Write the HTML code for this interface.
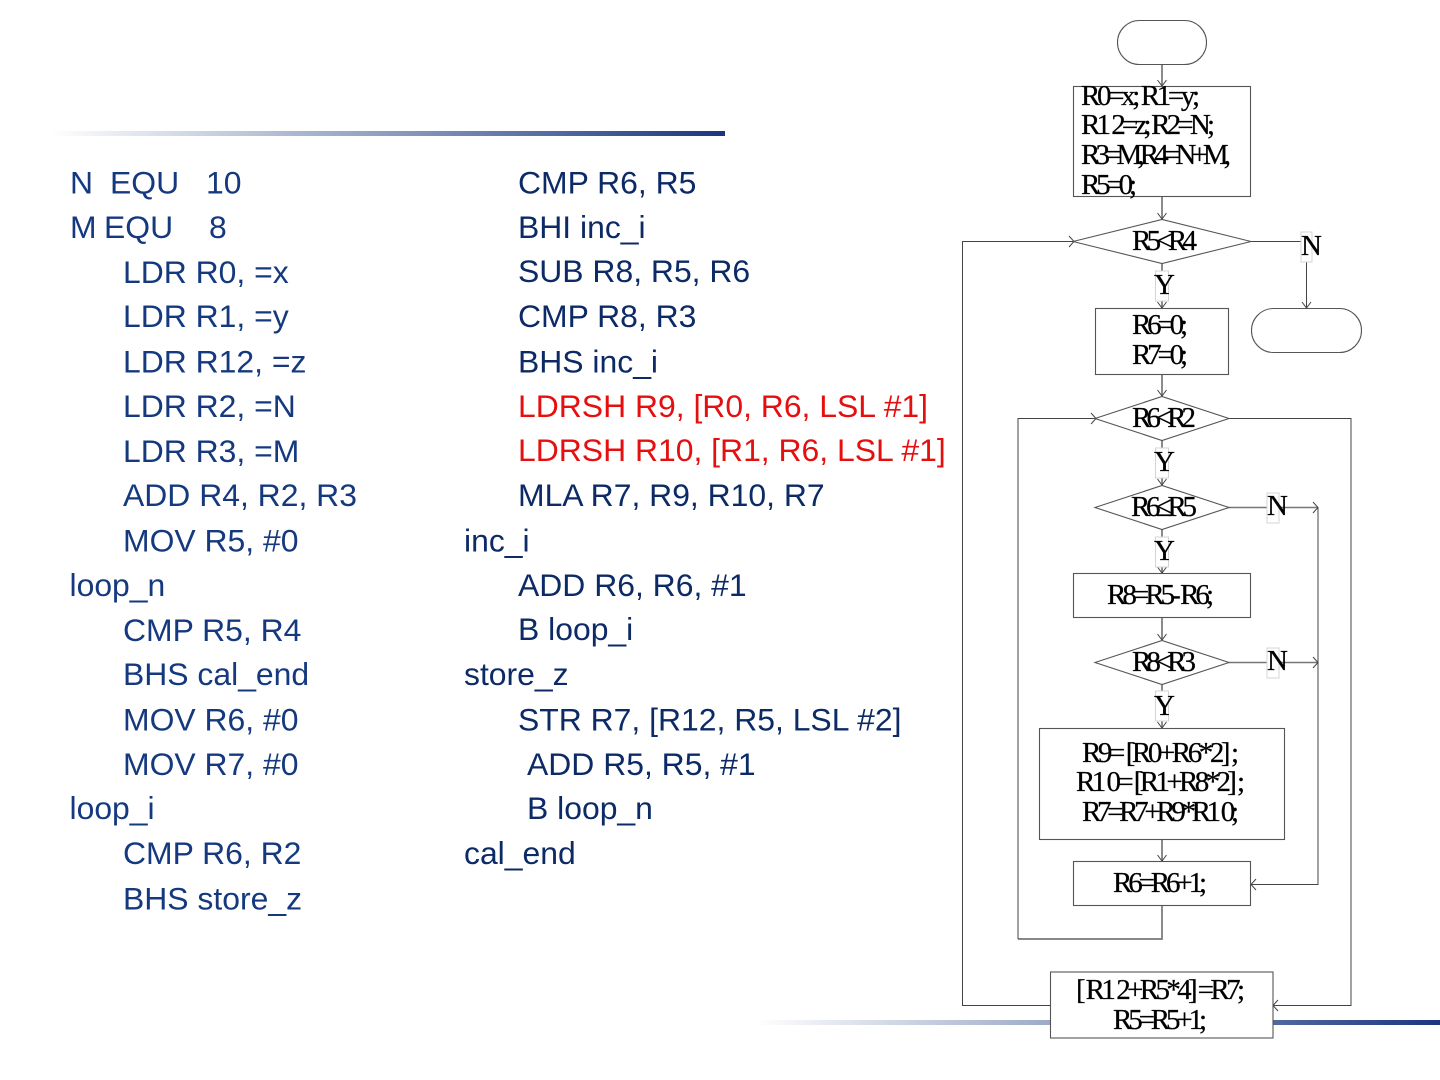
<!DOCTYPE html>
<html><head><meta charset="utf-8"><style>
html,body{margin:0;padding:0;background:#fff;width:1440px;height:1080px;overflow:hidden}
svg{display:block}
.c{font-family:"Liberation Sans",sans-serif;font-size:31.9px;fill:#15397f}
.d{font-family:"Liberation Sans",sans-serif;font-size:31.9px;fill:#0c2a66}
.r{font-family:"Liberation Sans",sans-serif;font-size:31.9px;fill:#e60f0f}
.f{font-family:"Liberation Serif",serif;font-size:29px;fill:#000;stroke:#000;stroke-width:.25}
.s{fill:#fff;stroke:#555;stroke-width:1.1}
.l{fill:none;stroke:#444;stroke-width:1}
.v{fill:none;stroke:#777;stroke-width:1.7}
.b{fill:#fff;stroke:#d4d4d4;stroke-width:1}
</style></head><body>
<svg width="1440" height="1080" viewBox="0 0 1440 1080" xmlns="http://www.w3.org/2000/svg">
<defs>
<linearGradient id="g1" x1="0" x2="1" y1="0" y2="0"><stop offset="0" stop-color="#fff"/><stop offset="0.5" stop-color="#8c9dbf"/><stop offset="1" stop-color="#1b3580"/></linearGradient>
</defs>
<rect x="50" y="131" width="675" height="5" fill="url(#g1)"/>
<rect x="755" y="1020" width="685" height="5" fill="url(#g1)"/>

<g transform="translate(0,0.6)">
<text class="c" x="70" y="192.7">N</text><text class="c" x="110" y="192.7">EQU</text><text class="c" x="206" y="192.7">10</text>
<text class="c" x="70" y="237.5">M</text><text class="c" x="104" y="237.5">EQU</text><text class="c" x="209" y="237.5">8</text>
<text class="c" x="123" y="282.2">LDR R0, =x</text>
<text class="c" x="123" y="326.4">LDR R1, =y</text>
<text class="c" x="123" y="371.7">LDR R12, =z</text>
<text class="c" x="123" y="416.5">LDR R2, =N</text>
<text class="c" x="123" y="461.2">LDR R3, =M</text>
<text class="c" x="123" y="505.4">ADD R4, R2, R3</text>
<text class="c" x="123" y="550.7">MOV R5, #0</text>
<text class="c" x="69.5" y="595.5">loop_n</text>
<text class="c" x="123" y="640.2">CMP R5, R4</text>
<text class="c" x="123" y="684.4">BHS cal_end</text>
<text class="c" x="123" y="729.7">MOV R6, #0</text>
<text class="c" x="123" y="774.5">MOV R7, #0</text>
<text class="c" x="69.5" y="818.6">loop_i</text>
<text class="c" x="123" y="863.4">CMP R6, R2</text>
<text class="c" x="123" y="908.7">BHS store_z</text>

<text class="d" x="518" y="192.7">CMP R6, R5</text>
<text class="d" x="518" y="237.5">BHI inc_i</text>
<text class="d" x="518" y="281.4">SUB R8, R5, R6</text>
<text class="d" x="518" y="326.4">CMP R8, R3</text>
<text class="d" x="518" y="371.7">BHS inc_i</text>
<text class="r" x="518" y="416.5">LDRSH R9, [R0, R6, LSL #1]</text>
<text class="r" x="518" y="460.4">LDRSH R10, [R1, R6, LSL #1]</text>
<text class="d" x="518" y="505.4">MLA R7, R9, R10, R7</text>
<text class="d" x="464" y="550.7">inc_i</text>
<text class="d" x="518" y="595.5">ADD R6, R6, #1</text>
<text class="d" x="518" y="639.4">B loop_i</text>
<text class="d" x="464" y="684.4">store_z</text>
<text class="d" x="518" y="729.7">STR R7, [R12, R5, LSL #2]</text>
<text class="d" x="527" y="774.5">ADD R5, R5, #1</text>
<text class="d" x="527" y="818.6">B loop_n</text>
<text class="d" x="464" y="863.4">cal_end</text>
</g>

<path class="v" d="M1162 64V86M1162 197V219M1162 263V308M1162 374V396M1162 440V485M1162 529V573M1162 618V640M1162 684V728M1162 839V861M1162 905V939H1018"/>
<path class="l" d="M1018 939V418.5H1095M1229 418.5H1351V1005.5H1273M1051 1005.5H962.5V241.5H1073M1251 241.5H1306.5V308M1318 507.5V884.5H1251"/>
<path class="v" d="M1229 507.5H1318M1229 662.5H1318" style="stroke-width:1.4"/>
<path class="l" d="M1157.5 80L1162 86L1166.5 80M1157.5 213L1162 219L1166.5 213M1157.5 302L1162 308L1166.5 302M1157.5 390L1162 396L1166.5 390M1157.5 479L1162 485L1166.5 479M1157.5 567L1162 573L1166.5 567M1157.5 634L1162 640L1166.5 634M1157.5 722L1162 728L1166.5 722M1157.5 855L1162 861L1166.5 855M1302 302L1306.5 308L1311 302"/>
<path class="l" d="M1069 236L1074 241.5L1069 247M1091 413L1096 418.5L1091 424M1313 502L1318 507.5L1313 513M1313 657L1318 662.5L1313 668M1256 879L1251 884.5L1256 890M1278 1000L1273 1005.5L1278 1011"/>

<rect class="s" x="1117.5" y="20.5" width="89" height="44" rx="22" ry="22"/>
<rect class="s" x="1251.5" y="308.5" width="110" height="44" rx="22" ry="22"/>
<rect class="s" x="1073.5" y="86.5" width="177" height="110"/>
<rect class="s" x="1095.5" y="308.5" width="133" height="66"/>
<rect class="s" x="1073.5" y="573.5" width="177" height="44"/>
<rect class="s" x="1039.5" y="728.5" width="245" height="111"/>
<rect class="s" x="1073.5" y="861.5" width="177" height="44"/>
<rect class="s" x="1050.5" y="972" width="222.5" height="66"/>
<polygon class="s" points="1073,241.5 1162,219.5 1251,241.5 1162,263.5"/>
<polygon class="s" points="1095,418.5 1162,396.5 1229,418.5 1162,440.5"/>
<polygon class="s" points="1095,507.5 1162,485.5 1229,507.5 1162,529.5"/>
<polygon class="s" points="1095,662.5 1162,640.5 1229,662.5 1162,684.5"/>

<rect class="b" x="1301" y="232" width="11" height="30"/>
<rect class="b" x="1155.5" y="271" width="13" height="30"/>
<rect class="b" x="1155.5" y="448" width="13" height="30"/>
<rect class="b" x="1155.5" y="537" width="13" height="30"/>
<rect class="b" x="1155.5" y="691" width="13" height="30"/>
<rect class="b" x="1267" y="493" width="12" height="30"/>
<rect class="b" x="1267" y="648" width="12" height="30"/>

<text class="f" x="1081" y="105" textLength="119">R0=x; R1=y;</text>
<text class="f" x="1081" y="134" textLength="134">R1<tspan dx="4">2</tspan>=z; R2=N;</text>
<text class="f" x="1081" y="164" textLength="150">R3=M,R4=N+M,</text>
<text class="f" x="1081" y="194" textLength="56">R5=0;</text>
<text class="f" x="1132" y="250" textLength="65">R5&lt;R4</text>
<text class="f" x="1301" y="255" textLength="21">N</text>
<text class="f" x="1154" y="294" textLength="17">Y</text>
<text class="f" x="1132" y="334" textLength="56">R6=0;</text>
<text class="f" x="1132" y="364" textLength="56">R7=0;</text>
<text class="f" x="1132" y="427" textLength="64">R6&lt;R2</text>
<text class="f" x="1154" y="471" textLength="17">Y</text>
<text class="f" x="1131" y="516" textLength="66">R6≤R5</text>
<text class="f" x="1267" y="515" textLength="21">N</text>
<text class="f" x="1154" y="560" textLength="17">Y</text>
<text class="f" x="1107" y="604" textLength="107">R8=R5- R6;</text>
<text class="f" x="1132" y="671" textLength="64">R8&lt;R3</text>
<text class="f" x="1267" y="670" textLength="21">N</text>
<text class="f" x="1154" y="715" textLength="17">Y</text>
<text class="f" x="1082" y="762" textLength="157">R9= [R0+R6*2] ;</text>
<text class="f" x="1076" y="791" textLength="169">R1<tspan dx="4">0</tspan>= [R1+R8*2] ;</text>
<text class="f" x="1082" y="821" textLength="157">R7=R7+R9*R1<tspan dx="4">0</tspan>;</text>
<text class="f" x="1113" y="892" textLength="94">R6=R6+1;</text>
<text class="f" x="1076" y="999" textLength="169">[ R1<tspan dx="4">2</tspan>+R5*4] =R7;</text>
<text class="f" x="1113" y="1029" textLength="94">R5=R5+1;</text>
</svg>
</body></html>
